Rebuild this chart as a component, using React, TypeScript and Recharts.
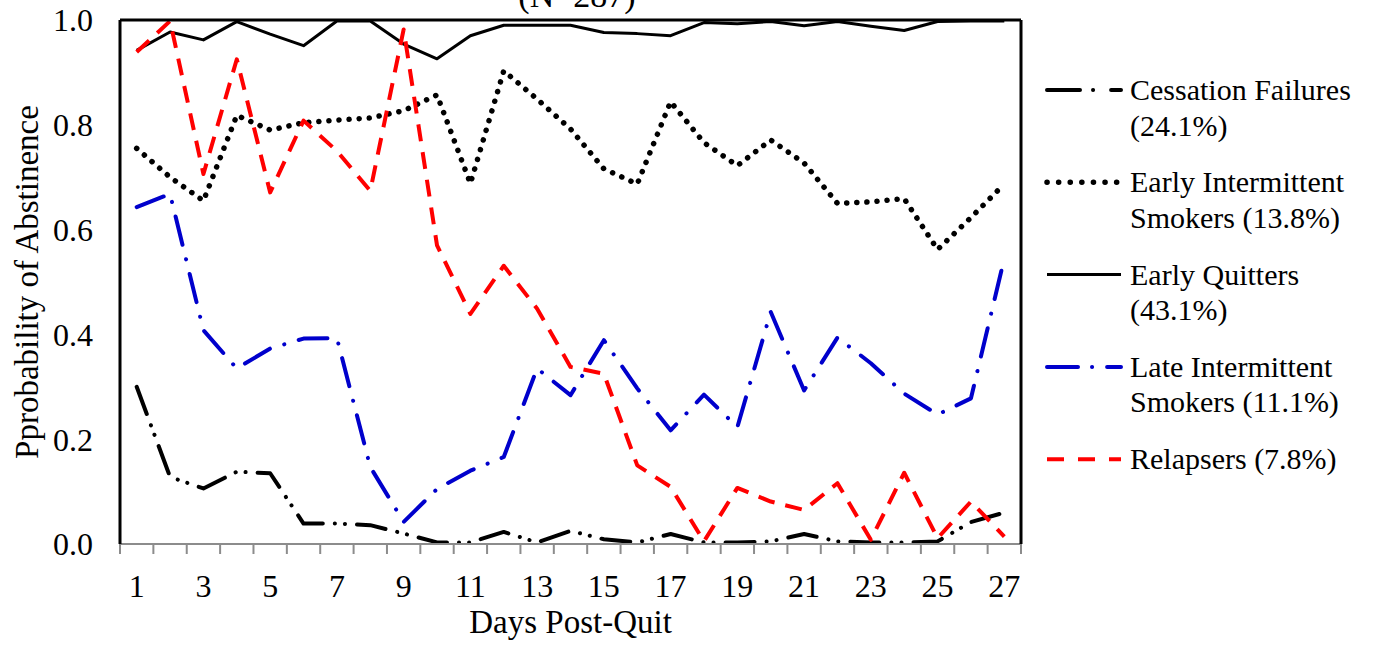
import React from 'react';
import { LineChart, Line, XAxis, YAxis, Label } from 'recharts';

// days post-quit and values
const days = [1, 2, 3, 4, 5, 6, 7, 8, 9, 10, 11, 12, 13, 14, 15, 16, 17, 18, 19, 20, 21, 22, 23, 24, 25, 26, 27];
const dayTicks = [1, 3, 5, 7, 9, 11, 13, 15, 17, 19, 21, 23, 25, 27];
const probTicks = [0, 0.2, 0.4, 0.6, 0.8, 1.0];

const cessationFailures = [0.3, 0.128, 0.106, 0.138, 0.135, 0.039, 0.039, 0.036, 0.02, 0.003, 0.003, 0.023, 0.003, 0.025, 0.009, 0.003, 0.019, 0.003, 0.003, 0.005, 0.019, 0.005, 0.003, 0.003, 0.005, 0.042, 0.06];
const earlyIntermittent = [0.755, 0.7, 0.655, 0.818, 0.79, 0.804, 0.809, 0.813, 0.827, 0.857, 0.688, 0.903, 0.849, 0.792, 0.716, 0.687, 0.844, 0.766, 0.722, 0.771, 0.727, 0.65, 0.653, 0.659, 0.562, 0.623, 0.687];
const earlyQuitters = [0.942, 0.977, 0.962, 0.997, 0.973, 0.951, 0.998, 0.998, 0.954, 0.926, 0.97, 0.99, 0.99, 0.99, 0.976, 0.974, 0.97, 0.995, 0.993, 0.997, 0.989, 0.997, 0.988, 0.98, 0.997, 0.998, 0.998];
const lateIntermittent = [0.643, 0.668, 0.408, 0.335, 0.373, 0.392, 0.393, 0.147, 0.042, 0.105, 0.14, 0.166, 0.335, 0.284, 0.389, 0.297, 0.217, 0.285, 0.223, 0.443, 0.293, 0.394, 0.345, 0.287, 0.247, 0.278, 0.545];
const relapsers = [0.939, 0.998, 0.706, 0.925, 0.671, 0.808, 0.75, 0.674, 0.982, 0.57, 0.439, 0.531, 0.449, 0.338, 0.325, 0.15, 0.109, 0.005, 0.107, 0.081, 0.065, 0.116, 0.008, 0.136, 0.011, 0.081, 0.014];

const chartData = days.map((day, i) => ({
  day,
  cessation: cessationFailures[i],
  earlyInt: earlyIntermittent[i],
  earlyQuit: earlyQuitters[i],
  lateInt: lateIntermittent[i],
  relapse: relapsers[i],
}));

// tick marks sit between categories, labels in the middle
const dayBoundaries = [...days.map((d) => d - 0.5), days[days.length - 1] + 0.5];
const dayDomain = [days[0] - 0.5, days[days.length - 1] + 0.5];

const FONT = '"Liberation Serif", "DejaVu Serif", "Times New Roman", Times, serif';
const AXIS_GRAY = '#8c8c8c';

const SERIES = [
  { key: 'cessation', label: ['Cessation Failures', '(24.1%)'], stroke: '#000000', width: 4, dash: '29 12 0.1 10 0.1 12', legendDash: '33 13 0.1 18', cap: 'round' },
  { key: 'earlyInt', label: ['Early Intermittent', 'Smokers (13.8%)'], stroke: '#000000', width: 5.5, dash: '0.1 10', legendDash: '0.1 11.5', cap: 'round' },
  { key: 'earlyQuit', label: ['Early Quitters', '(43.1%)'], stroke: '#000000', width: 3, dash: undefined, legendDash: undefined, cap: 'butt' },
  { key: 'lateInt', label: ['Late Intermittent', 'Smokers (11.1%)'], stroke: '#0000cc', width: 4, dash: '29 15 0.1 15', legendDash: '31 14 0.1 15', cap: 'round' },
  { key: 'relapse', label: ['Relapsers (7.8%)'], stroke: '#ff0000', width: 4, dash: '17 11', legendDash: '17 14', cap: 'butt' },
];

const W = 1373;
const H = 649;

// tick marks only, no label
const NoLabel = () => null;

const Overlay = () => (
  <svg width={W} height={H} style={{ position: 'absolute', left: 0, top: 0, pointerEvents: 'none', fontFamily: FONT }}>
    <text x={577} y={7} textAnchor="middle" fontFamily={FONT} fontSize={34} fill="#000">
      (N=287)
    </text>
    {SERIES.map((s, i) => {
      const base = 100 + i * 92.3;
      return (
        <g key={s.key}>
          <line
            x1={1047}
            x2={1121}
            y1={base - 10}
            y2={base - 10}
            stroke={s.stroke}
            strokeWidth={s.width}
            strokeDasharray={s.legendDash}
            strokeLinecap={s.cap as any}
          />
          {s.label.map((t, j) => (
            <text key={j} x={1130} y={base + j * 35.5} fontFamily={FONT} fontSize={30} fill="#000">
              {t}
            </text>
          ))}
        </g>
      );
    })}
  </svg>
);

export default function App() {
  return (
    <div style={{ position: 'absolute', left: 0, top: 0, width: W, height: H, background: '#fff', fontFamily: FONT }}>
      <LineChart width={W} height={H} data={chartData} margin={{ top: 19, right: 351, left: 0, bottom: 0 }}>
        <XAxis
          xAxisId="days"
          dataKey="day"
          type="number"
          domain={dayDomain}
          ticks={dayTicks}
          allowDataOverflow
          height={104}
          axisLine={false}
          tickLine={false}
          tickSize={0}
          tickMargin={29}
          tick={{ fontFamily: FONT, fontSize: 32, fill: '#000' }}
        >
          <Label value="Days Post-Quit" position="insideBottom" offset={16} style={{ fontFamily: FONT, fontSize: 33, fill: '#000' }} />
        </XAxis>
        <XAxis
          xAxisId="aMarks"
          dataKey="day"
          type="number"
          domain={dayDomain}
          ticks={dayBoundaries}
          allowDataOverflow
          interval={0}
          height={1}
          tick={NoLabel}
          tickSize={10}
          tickLine={{ stroke: AXIS_GRAY, strokeWidth: 2 }}
          axisLine={{ stroke: AXIS_GRAY, strokeWidth: 2 }}
        />
        <XAxis
          xAxisId="top"
          orientation="top"
          dataKey="day"
          type="number"
          domain={dayDomain}
          allowDataOverflow
          height={1}
          tick={false}
          tickLine={false}
          axisLine={{ stroke: '#000', strokeWidth: 3 }}
        />
        <YAxis
          yAxisId="prob"
          type="number"
          domain={[0, 1]}
          ticks={probTicks}
          width={120}
          tickFormatter={(v: number) => v.toFixed(1)}
          tickLine={false}
          tickSize={0}
          tickMargin={27}
          axisLine={{ stroke: '#000', strokeWidth: 3 }}
          tick={{ fontFamily: FONT, fontSize: 32, fill: '#000' }}
        >
          <Label
            value="Pprobability of Abstinence"
            position="center"
            angle={-90}
            dx={-34}
            style={{ fontFamily: FONT, fontSize: 33, fill: '#000' }}
          />
        </YAxis>
        <YAxis
          yAxisId="frame"
          orientation="right"
          type="number"
          domain={[0, 1]}
          width={1}
          tick={false}
          tickLine={false}
          axisLine={{ stroke: '#000', strokeWidth: 3 }}
        />
        {SERIES.map((s) => (
          <Line
            key={s.key}
            xAxisId="days"
            yAxisId="prob"
            type="linear"
            dataKey={s.key}
            stroke={s.stroke}
            strokeWidth={s.width}
            strokeDasharray={s.dash}
            strokeLinecap={s.cap as any}
            strokeLinejoin="round"
            dot={false}
            activeDot={false}
            isAnimationActive={false}
          />
        ))}
      </LineChart>
      <Overlay />
    </div>
  );
}
